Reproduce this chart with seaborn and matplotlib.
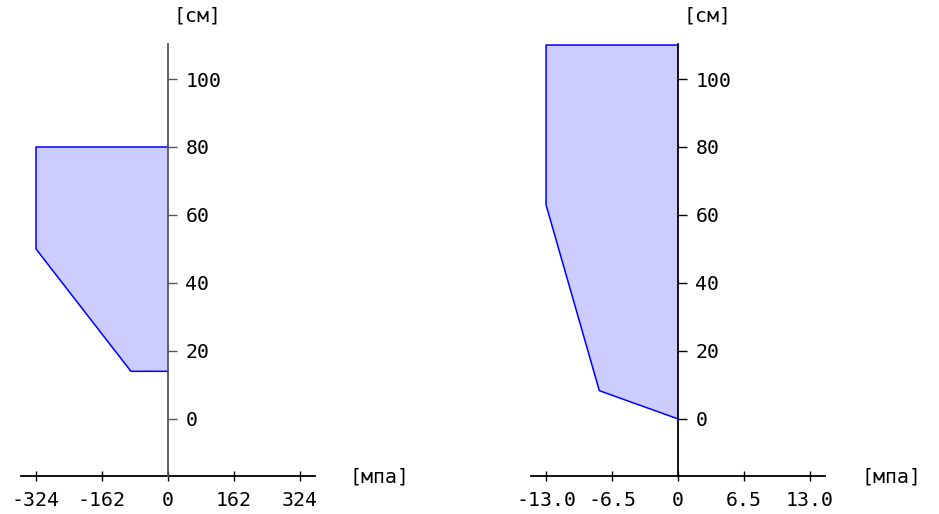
import matplotlib
matplotlib.use("Agg")
import matplotlib.pyplot as plt
import seaborn as sns
import numpy as np
import pandas as pd

# ---- data ----
left_stress = [0, -324, -324, -91, 0]
left_depth = [80, 80, 50, 14, 14]
right_stress = [0, -13.0, -13.0, -7.75, 0]
right_depth = [110, 110, 63, 8.3, 0]

left_xticks = [-324, -162, 0, 162, 324]
left_xlabels = ["-324", "-162", "0", "162", "324"]
right_xticks = [-13.0, -6.5, 0, 6.5, 13.0]
right_xlabels = ["-13.0", "-6.5", "0", "6.5", "13.0"]
yticks = [0, 20, 40, 60, 80, 100]
ylabels = ["0", "20", "40", "60", "80", "100"]

y_unit = "[см]"
x_unit = "[мпа]"

sns.set_theme(style="white")
plt.rcParams["font.family"] = ["DejaVu Sans Mono", "DejaVu Sans"]
plt.rcParams["axes.unicode_minus"] = False
plt.rcParams["text.color"] = "black"
plt.rcParams["xtick.color"] = "black"
plt.rcParams["ytick.color"] = "black"

W, H = 939, 514
fig = plt.figure(figsize=(W / 100, H / 100), dpi=100)


def frac(px_l, px_t, px_r, px_b):
    return [px_l / W, 1 - px_b / H, (px_r - px_l) / W, (px_b - px_t) / H]


FS = 14.3


def panel(rect, xs, ys, xt, xl, xlim, spine_color, ylab_x, xlab_x):
    ax = fig.add_axes(rect)
    ax.fill(xs, ys, facecolor="#ccccff", edgecolor="none", zorder=1)
    df = pd.DataFrame({"s": xs, "d": ys})
    sns.lineplot(data=df, x="s", y="d", sort=False, estimator=None,
                 color="#0000ff", linewidth=1.1, ax=ax, zorder=2)
    ax.set_xlim(*xlim)
    ax.set_ylim(-16.8, 110.3)
    ax.set_xlabel("")
    ax.set_ylabel("")
    for s in ["top", "right"]:
        ax.spines[s].set_visible(False)
    ax.spines["left"].set_position(("data", 0))
    ax.spines["left"].set_color(spine_color)
    ax.spines["left"].set_linewidth(1.3)
    ax.spines["left"].set_zorder(3)
    ax.spines["bottom"].set_color("black")
    ax.spines["bottom"].set_linewidth(1.3)
    ax.set_xticks(xt)
    ax.set_xticklabels(xl)
    ax.set_yticks(yticks)
    ax.set_yticklabels(ylabels)
    ax.tick_params(axis="y", left=True, right=False, labelleft=True,
                   direction="in", length=6.5, width=1.0,
                   color=spine_color, labelcolor="black",
                   labelsize=FS, pad=-12.5)
    for lbl in ax.get_yticklabels():
        lbl.set_horizontalalignment("left")
    ax.tick_params(axis="x", bottom=True, direction="inout", length=7,
                   width=1.0, color="black", labelcolor="black",
                   labelsize=FS, pad=7.5)
    ax.patch.set_alpha(0)
    fig.text(ylab_x / W, 1 - 15.5 / H, y_unit, fontsize=FS,
             ha="center", va="center")
    fig.text(xlab_x / W, 1 - 477 / H, x_unit, fontsize=FS,
             ha="center", va="center")
    return ax


ax1 = panel(frac(21, 44, 315, 476), left_stress, left_depth,
            left_xticks, left_xlabels, (-360.8, 360.8), "#555555", 197, 380)
ax2 = panel(frac(531, 44, 825, 476), right_stress, right_depth,
            right_xticks, right_xlabels, (-14.48, 14.48), "black", 707, 891)

fig.savefig("out.png", dpi=100)
